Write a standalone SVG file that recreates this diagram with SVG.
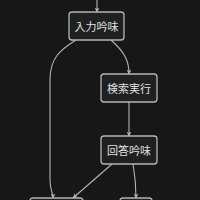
<svg xmlns="http://www.w3.org/2000/svg" width="200" height="200" viewBox="0 0 200 200">
<style>
.n rect{fill:#1f2020;stroke:#b4b4b4;stroke-width:1.3}
.n text{fill:#e0e0e0;font-family:"Noto Sans CJK JP","Noto Sans CJK SC",sans-serif;font-size:11px;text-anchor:middle;dominant-baseline:central}
.e path{fill:none;stroke:#b4b4b4;stroke-width:1.1;marker-end:url(#a)}
</style>
<defs>
<marker id="a" viewBox="0 0 10 10" refX="9" refY="5" markerWidth="5" markerHeight="5" orient="auto" markerUnits="userSpaceOnUse">
<path d="M0,0 L10,5 L0,10 L3,5 z" fill="#b4b4b4"/>
</marker>
</defs>
<rect width="200" height="200" fill="#171717"/>
<g class="e">
<path d="M97,0 L97,12"/>
<path d="M76,40 C60,50 50,58 50,80 L50,180 C50,190 53,193 53,198"/>
<path d="M111,40 C122,50 129,58 129,74"/>
<path d="M129,102 L129,136"/>
<path d="M112,164 L73,198"/>
<path d="M133,164 C135,175 136,185 136,198"/>
</g>
<g id="n1" class="n"><rect x="69" y="12" width="55" height="28" rx="3"/><text x="96.5" y="26">入力吟味</text></g>
<g id="n2" class="n"><rect x="101" y="74" width="56" height="28" rx="3"/><text x="129" y="88">検索実行</text></g>
<g id="n3" class="n"><rect x="101" y="136" width="56" height="28" rx="3"/><text x="129" y="150">回答吟味</text></g>
<g id="n4" class="n"><rect x="30" y="198" width="53" height="28" rx="3"/></g>
<g id="n5" class="n"><rect x="120" y="198" width="32" height="28" rx="3"/></g>
</svg>
